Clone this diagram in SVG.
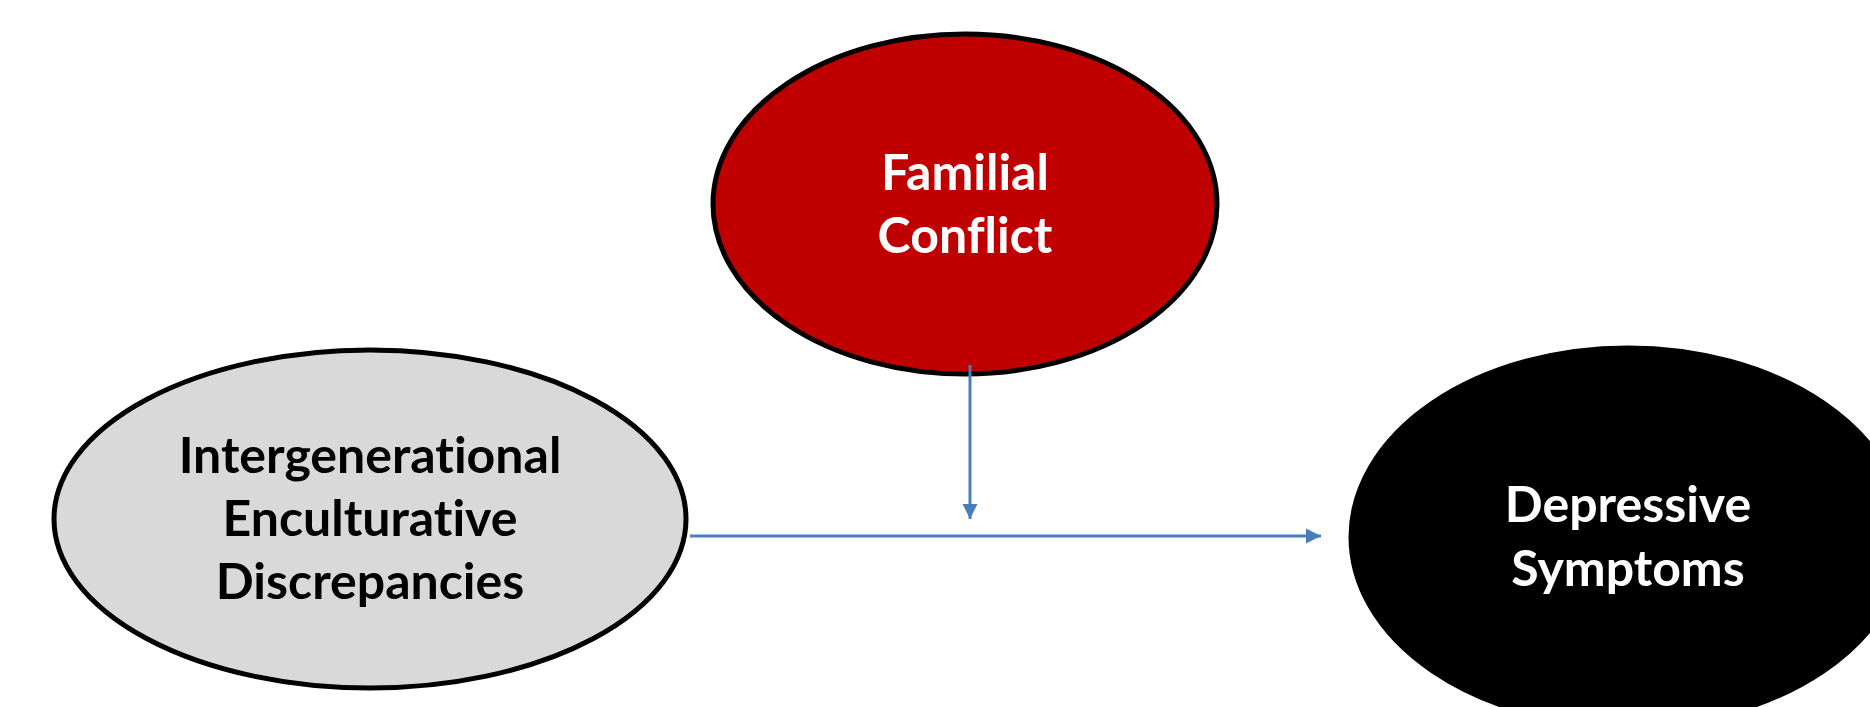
<svg xmlns="http://www.w3.org/2000/svg" width="1870" height="707" viewBox="0 0 1870 707">
  <style>
    .lbl { font-family: Lato, "Open Sans", "Liberation Sans", sans-serif; font-weight: bold; font-size: 50px; text-anchor: middle; font-variant-ligatures: none; font-feature-settings: "liga" 0, "clig" 0; }
    .light { fill: #ffffff; }
    .dark { fill: #000000; }
    .shape { stroke: #000000; stroke-width: 5; }
    .conn { stroke: #4a7ebb; stroke-width: 3; fill: none; }
  </style>
  <defs>
    <marker id="arrow" markerUnits="userSpaceOnUse" markerWidth="16" markerHeight="16" refX="15" refY="8" orient="auto">
      <path d="M0,0.5 L15,8 L0,15.5 z" fill="#4a7ebb"/>
    </marker>
  </defs>
  <rect width="1870" height="707" fill="#ffffff"/>
  <g id="node-depressive">
    <ellipse class="shape" cx="1628" cy="537" rx="277" ry="189" fill="#000000"/>
    <text class="lbl light" x="1628" y="522">Depressive</text>
    <text class="lbl light" x="1628" y="586">Symptoms</text>
  </g>
  <g id="node-familial">
    <ellipse class="shape" cx="965" cy="204" rx="252" ry="170" fill="#c00000"/>
    <text class="lbl light" x="965" y="190">Familial</text>
    <text class="lbl light" x="965" y="253">Conflict</text>
  </g>
  <g id="node-intergenerational">
    <ellipse class="shape" cx="370" cy="519" rx="316" ry="169" fill="#d9d9d9"/>
    <text class="lbl dark" x="370" y="473">Intergenerational</text>
    <text class="lbl dark" x="370" y="536">Enculturative</text>
    <text class="lbl dark" x="370" y="599">Discrepancies</text>
  </g>
  <g id="connectors">
    <line class="conn" x1="690" y1="536" x2="1321" y2="536" marker-end="url(#arrow)"/>
    <line class="conn" x1="970" y1="365" x2="970" y2="519" marker-end="url(#arrow)"/>
  </g>
</svg>
